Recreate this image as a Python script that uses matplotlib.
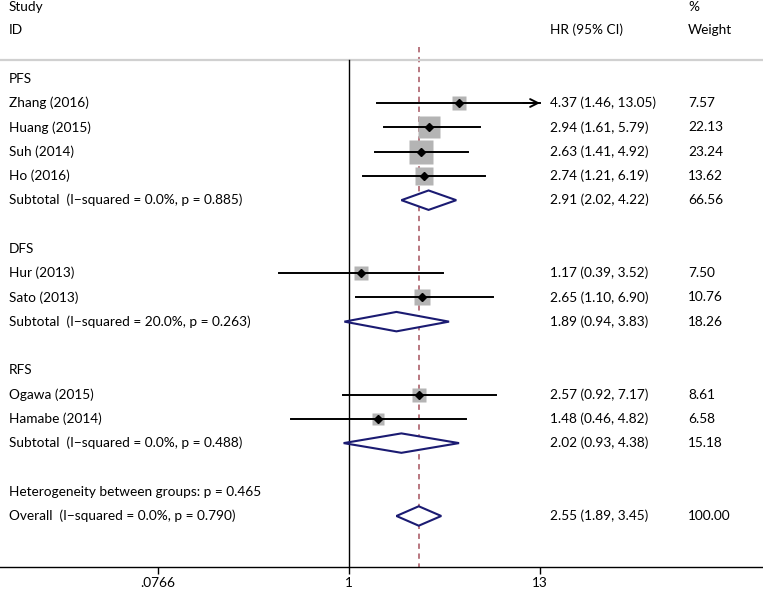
import numpy as np
import matplotlib
matplotlib.use('Agg')
import matplotlib.pyplot as plt

plt.rcParams['font.family'] = ['Lato', 'DejaVu Sans']

# Study-level data
studies = ['Zhang (2016)', 'Huang (2015)', 'Suh (2014)', 'Ho (2016)',
           'Hur (2013)', 'Sato (2013)', 'Ogawa (2015)', 'Hamabe (2014)']
study_group = ['PFS', 'PFS', 'PFS', 'PFS', 'DFS', 'DFS', 'RFS', 'RFS']
hr = [4.37, 2.94, 2.63, 2.74, 1.17, 2.65, 2.57, 1.48]
lo = [1.46, 1.61, 1.41, 1.21, 0.39, 1.10, 0.92, 0.46]
hi = [13.05, 5.79, 4.92, 6.19, 3.52, 6.90, 7.17, 4.82]
weights = [7.57, 22.13, 23.24, 13.62, 7.50, 10.76, 8.61, 6.58]

# Subgroup pooled estimates
groups = ['PFS', 'DFS', 'RFS']
sub_labels = ['Subtotal  (I\u2212squared = 0.0%, p = 0.885)',
              'Subtotal  (I\u2212squared = 20.0%, p = 0.263)',
              'Subtotal  (I\u2212squared = 0.0%, p = 0.488)']
sub_hr = [2.91, 1.89, 2.02]
sub_lo = [2.02, 0.94, 0.93]
sub_hi = [4.22, 3.83, 4.38]
sub_w = [66.56, 18.26, 15.18]

# Overall
het_label = 'Heterogeneity between groups: p = 0.465'
overall_label = 'Overall  (I\u2212squared = 0.0%, p = 0.790)'
overall = [2.55, 1.89, 3.45, 100.00]

tick_vals = [0.0766, 1, 13]
tick_labels = ['.0766', '1', '13']

W, H = 763, 591
fig = plt.figure(figsize=(W / 100, H / 100), dpi=100)
ax = fig.add_axes([0, 24 / H, 1, 567 / H])
ax.set_xscale('log')
ax.set_xlim(np.exp(-349 / 74.5), np.exp((W - 349) / 74.5))
ax.set_ylim(20.1, -3.24)

for s in ['top', 'left', 'right']:
    ax.spines[s].set_visible(False)
ax.spines['bottom'].set_linewidth(1.0)
ax.set_yticks([])
ax.set_xticks(tick_vals)
ax.set_xticklabels(tick_labels)
ax.minorticks_off()
ax.tick_params(axis='x', length=5, width=1.0, labelsize=9.8, pad=2)

tr = ax.get_yaxis_transform()  # x in axes fraction, y in data
fs = 9.8
x_lab = 9 / W
x_hr = 550 / W
x_w = 688 / W


def row_text(y, label, est=None, w=None):
    ax.text(x_lab, y, label, transform=tr, va='center', ha='left', fontsize=fs)
    if est is not None:
        ax.text(x_hr, y, '%.2f (%.2f, %.2f)' % est, transform=tr,
                va='center', ha='left', fontsize=fs)
    if w is not None:
        ax.text(x_w, y, '%.2f' % w, transform=tr, va='center', ha='left', fontsize=fs)


def diamond(y, c, l, h):
    ax.fill([l, c, h, c, l], [y, y - 0.4, y, y + 0.4, y], facecolor='white',
            edgecolor='#1b1b72', lw=1.5, zorder=4)


# header
ax.text(x_lab, -2.95, 'Study', transform=tr, va='center', fontsize=fs)
ax.text(x_lab, -2.0, 'ID', transform=tr, va='center', fontsize=fs)
ax.text(x_hr, -2.0, 'HR (95% CI)', transform=tr, va='center', fontsize=fs)
ax.text(x_w, -2.95, '%', transform=tr, va='center', fontsize=fs)
ax.text(x_w, -2.0, 'Weight', transform=tr, va='center', fontsize=fs)
ax.plot([0, 1], [-0.77, -0.77], transform=tr, color='#d0d0d0', lw=1.6,
        clip_on=False)

# reference lines
ax.plot([1, 1], [-0.77, 20.1], color='black', lw=1.0, zorder=2)
ax.plot([overall[0], overall[0]], [-1.3, 20.1], color='#a5525e', lw=1.1,
        dashes=(3.5, 3), zorder=1)

xmax = 13
row = 0
for g, gname in enumerate(groups):
    row_text(row, gname)
    row += 1
    for i in range(len(studies)):
        if study_group[i] != gname:
            continue
        side = 4.85 * np.sqrt(weights[i]) * 0.72
        ax.plot(hr[i], row, marker='s', ms=side, color='#b4b4b4', mec='none',
                zorder=3)
        if hi[i] > xmax:
            ax.plot([lo[i], xmax], [row, row], color='black', lw=1.4, zorder=4)
            ax.annotate('', xy=(xmax, row), xytext=(xmax * 0.8, row),
                        arrowprops=dict(arrowstyle='->', color='black', lw=1.4,
                                        mutation_scale=14, shrinkA=0, shrinkB=0),
                        zorder=4)
        else:
            ax.plot([lo[i], hi[i]], [row, row], color='black', lw=1.4, zorder=4)
        ax.plot(hr[i], row, marker='D', ms=4.2, color='black', zorder=5)
        row_text(row, studies[i], (hr[i], lo[i], hi[i]), weights[i])
        row += 1
    diamond(row, sub_hr[g], sub_lo[g], sub_hi[g])
    row_text(row, sub_labels[g], (sub_hr[g], sub_lo[g], sub_hi[g]), sub_w[g])
    row += 2

row_text(row, het_label)
row += 1
diamond(row, overall[0], overall[1], overall[2])
row_text(row, overall_label, tuple(overall[:3]), overall[3])

fig.savefig('out.png', dpi=100)
